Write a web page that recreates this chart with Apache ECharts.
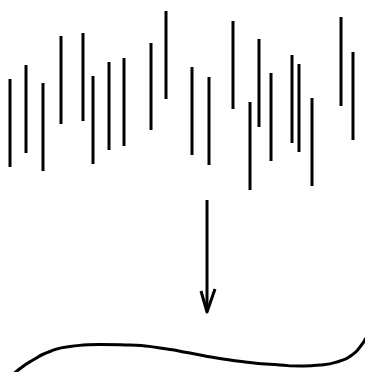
<!DOCTYPE html>
<html>
<head>
<meta charset="utf-8">
<script src="https://cdn.jsdelivr.net/npm/echarts@6/dist/echarts.min.js"></script>
<style>
  html, body { margin: 0; padding: 0; background: #fff; }
  #main { width: 365px; height: 372px; }
</style>
</head>
<body>
<div id="main"></div>
<script>
// vertical strokes: position, low end, high end
const stickX = [10, 26, 43, 61, 83, 93, 109, 124, 151, 166, 192, 209, 233, 250, 259, 271, 292, 299, 312, 341, 353]
const stickLow = [205, 219, 201, 248, 251, 208, 222, 226, 242, 273, 217, 207, 263, 182, 245, 211, 229, 220, 186, 266, 232]
const stickHigh = [293, 307, 289, 336, 339, 296, 310, 314, 329, 361, 305, 295, 351, 270, 333, 299, 317, 308, 274, 355, 320]

// arrow shaft and head
const arrowShaft = [[207, 172], [207, 61]]
const arrowHead = [[201, 81], [207, 60], [215, 83]]

// smooth curve at the bottom
const curveX = [10, 17, 33, 50, 70, 100, 130, 160, 190, 220, 250, 280, 300, 320, 340, 352, 360, 366]
const curveY = [-6, 1, 12, 20.5, 25.5, 27.5, 27, 24, 19, 13.5, 9.5, 7, 6, 7, 11, 17, 25, 34]

const chartInstance = echarts.init(document.getElementById('main'))

const sticks = stickX.map((x, i) => [x, stickLow[i], stickHigh[i]])
const curve = curveX.map((x, i) => [x, curveY[i]])

const initOption = {
  animation: false,
  grid: { left: 0, right: 0, top: 0, bottom: 0 },
  xAxis: { type: 'value', min: 0, max: 365, show: false },
  yAxis: { type: 'value', min: 0, max: 372, show: false },
  series: [
    {
      type: 'custom',
      data: sticks,
      renderItem: function (params, api) {
        const p1 = api.coord([api.value(0), api.value(1)])
        const p2 = api.coord([api.value(0), api.value(2)])
        return {
          type: 'line',
          shape: { x1: p1[0], y1: p1[1], x2: p2[0], y2: p2[1] },
          style: { stroke: '#000', lineWidth: 3, lineCap: 'butt' },
        }
      },
    },
    {
      type: 'line',
      data: arrowShaft,
      symbol: 'none',
      lineStyle: { color: '#000', width: 3 },
    },
    {
      type: 'line',
      data: arrowHead,
      symbol: 'none',
      lineStyle: { color: '#000', width: 3, join: 'round' },
    },
    {
      type: 'line',
      data: curve,
      smooth: 0.6,
      symbol: 'none',
      lineStyle: { color: '#000', width: 3 },
    },
  ],
}
chartInstance.setOption(initOption)
</script>
</body>
</html>
